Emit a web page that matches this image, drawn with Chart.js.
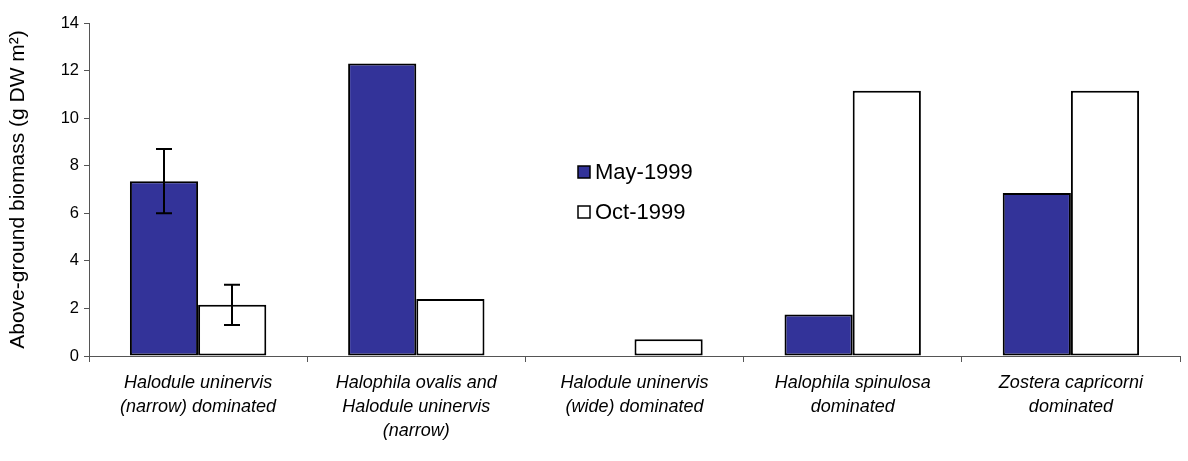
<!DOCTYPE html>
<html>
<head>
<meta charset="utf-8">
<script src="https://cdn.jsdelivr.net/npm/chart.js@4.4.1/dist/chart.umd.min.js"></script>
<style>
  html, body { margin: 0; padding: 0; background: #fff; }
  #wrap { width: 1188px; height: 461px; }
</style>
</head>
<body>
<div id="wrap"><canvas id="biomass"></canvas></div>
<script>
// seagrass meadow types (x categories, one array per label line)
var meadows = [
  ['Halodule uninervis', '(narrow) dominated'],
  ['Halophila ovalis and', 'Halodule uninervis', '(narrow)'],
  ['Halodule uninervis', '(wide) dominated'],
  ['Halophila spinulosa', 'dominated'],
  ['Zostera capricorni', 'dominated']
];
// above-ground biomass, g DW m-2
var may1999 = [7.35, 12.3, 0, 1.75, 6.85];
var oct1999 = [2.15, 2.4, 0.7, 11.15, 11.15];
// standard errors (null = no bar)
var may1999Err = [1.35, null, null, null, null];
var oct1999Err = [0.85, null, null, null, null];
var yTicks = [0, 2, 4, 6, 8, 10, 12, 14];

const FONT = '"Liberation Sans", Arial, sans-serif';

// error bars drawn on top of each bar centre
const errorBars = {
  id: 'errorBars',
  afterDatasetsDraw(chart) {
    const ctx = chart.ctx;
    const y = chart.scales.y;
    chart.data.datasets.forEach((ds, i) => {
      const meta = chart.getDatasetMeta(i);
      ds.errors.forEach((err, j) => {
        if (err == null) return;
        const x = Math.round(meta.data[j].x);
        const top = y.getPixelForValue(ds.data[j] + err);
        const bot = y.getPixelForValue(ds.data[j] - err);
        ctx.save();
        ctx.strokeStyle = '#000';
        ctx.lineWidth = 2;
        ctx.beginPath();
        ctx.moveTo(x, top); ctx.lineTo(x, bot);
        ctx.moveTo(x - 8, top); ctx.lineTo(x + 8, top);
        ctx.moveTo(x - 8, bot); ctx.lineTo(x + 8, bot);
        ctx.stroke();
        ctx.restore();
      });
    });
  }
};

// legend sitting inside the plot
const innerLegend = {
  id: 'innerLegend',
  afterDraw(chart) {
    const ctx = chart.ctx;
    ctx.save();
    ctx.font = '22px ' + FONT;
    ctx.textBaseline = 'middle';
    chart.data.datasets.forEach((ds, i) => {
      const ly = 172 + i * 40;
      ctx.fillStyle = ds.backgroundColor;
      ctx.fillRect(578, ly - 6, 12, 12);
      ctx.strokeStyle = '#000';
      ctx.lineWidth = 1.5;
      ctx.strokeRect(578, ly - 6, 12, 12);
      ctx.fillStyle = '#000';
      ctx.fillText(ds.label, 595, ly + 1);
    });
    ctx.restore();
  }
};

new Chart(document.getElementById('biomass'), {
  type: 'bar',
  data: {
    labels: meadows,
    datasets: [
      {
        label: 'May-1999',
        data: may1999,
        errors: may1999Err,
        backgroundColor: '#333399',
        borderColor: '#000',
        borderWidth: 2,
        borderSkipped: false
      },
      {
        label: 'Oct-1999',
        data: oct1999,
        errors: oct1999Err,
        backgroundColor: '#ffffff',
        borderColor: '#000',
        borderWidth: 2,
        borderSkipped: false
      }
    ]
  },
  options: {
    responsive: true,
    maintainAspectRatio: false,
    animation: false,
    categoryPercentage: 0.625,
    barPercentage: 1.0,
    layout: { padding: { top: 23, right: 8, bottom: 0, left: 0 } },
    plugins: {
      legend: { display: false },
      tooltip: { enabled: false }
    },
    scales: {
      x: {
        grid: { display: true, drawOnChartArea: false, drawTicks: true, tickLength: 6, offset: true, color: '#555' },
        border: { color: '#555', width: 1 },
        ticks: {
          color: '#000',
          font: { family: FONT, size: 18, style: 'italic', lineHeight: 1.333 },
          maxRotation: 0,
          autoSkip: false,
          padding: 9
        },
        afterFit(scale) { scale.height = 105; }
      },
      y: {
        min: 0,
        max: 14,
        afterBuildTicks(scale) { scale.ticks = yTicks.map(v => ({ value: v })); },
        grid: { display: true, drawOnChartArea: false, drawTicks: true, tickLength: 5, color: '#555' },
        border: { color: '#555', width: 1 },
        ticks: {
          color: '#000',
          font: { family: FONT, size: 16.5 },
          padding: 5
        },
        title: {
          display: true,
          text: 'Above-ground biomass (g DW m²)',
          color: '#000',
          font: { family: FONT, size: 21 },
          padding: { top: 6, bottom: 8 }
        },
        afterFit(scale) { scale.width = 89; }
      }
    }
  },
  plugins: [errorBars, innerLegend]
});
</script>
</body>
</html>
